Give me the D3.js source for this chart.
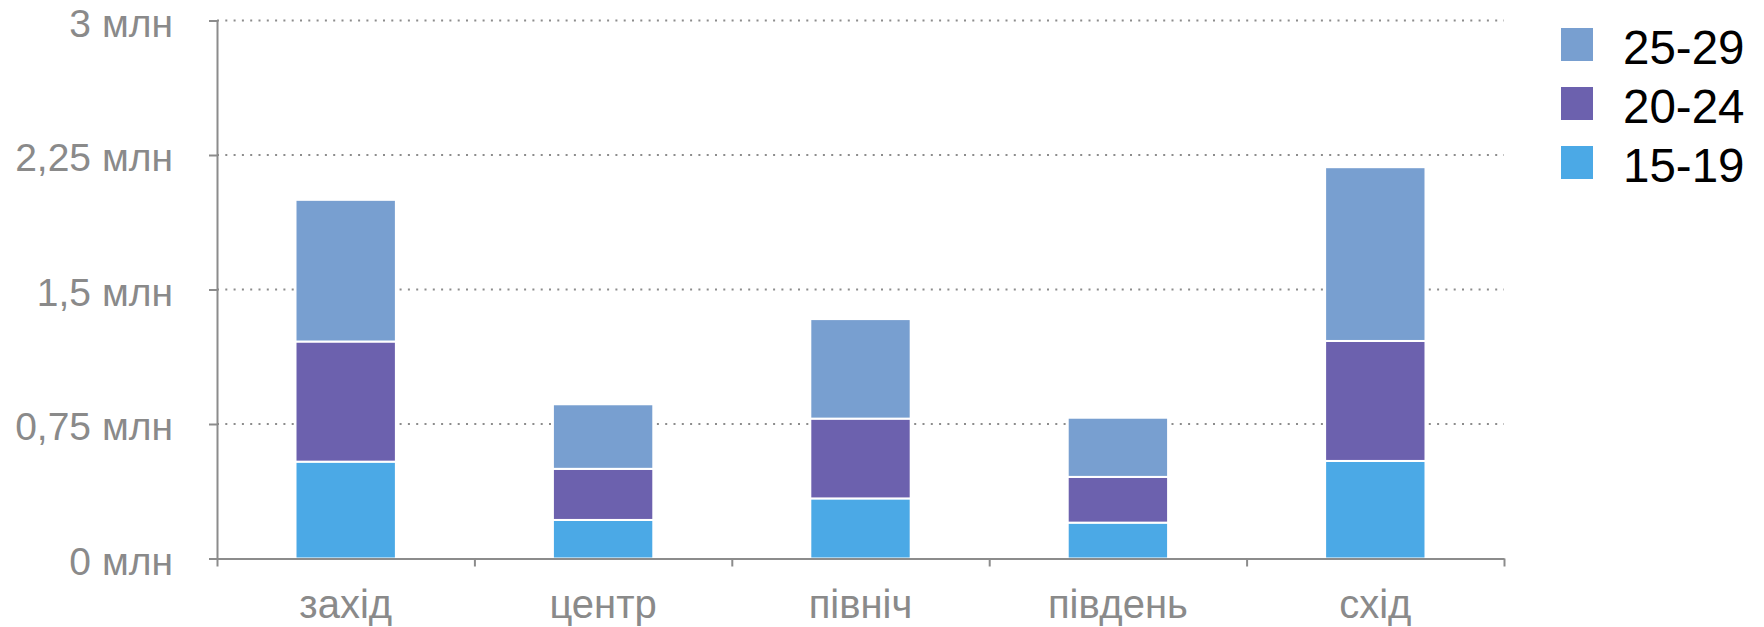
<!DOCTYPE html>
<html>
<head>
<meta charset="utf-8">
<script src="https://cdn.jsdelivr.net/npm/d3@7"></script>
<style>
  body { margin: 0; background: #fff; }
  svg { display: block; font-family: Helvetica, Arial, "Liberation Sans", sans-serif; }
</style>
</head>
<body>
<div id="chart"></div>
<script>
// regions and age groups (values in млн)
const regions = ['захід', 'центр', 'північ', 'південь', 'схід']
const ageGroups = ['15-19', '20-24', '25-29']
const age15to19 = [0.54, 0.215, 0.335, 0.20, 0.544]
const age20to24 = [0.67, 0.285, 0.445, 0.255, 0.669]
const age25to29 = [0.79, 0.36, 0.555, 0.33, 0.969]
const yTicks = [0, 0.75, 1.5, 2.25, 3]
const colors = { '15-19': '#4ba9e6', '20-24': '#6c61ae', '25-29': '#789fd0' }

const rows = regions.map((r, i) => ({
    region: r,
    '15-19': age15to19[i],
    '20-24': age20to24[i],
    '25-29': age25to29[i]
}))

const margin = {top: 20.5, right: 260, bottom: 68.5, left: 217}
const svgWidth = 1764
const svgHeight = 627
const width = svgWidth - margin.left - margin.right
const height = svgHeight - margin.top - margin.bottom

const x = d3.scaleBand()
    .domain(regions)
    .range([0, width])
    .paddingInner(0.61)
    .paddingOuter(0.305)

const xEdge = d3.scaleLinear()
    .domain([0, regions.length])
    .range([0, width])

const y = d3.scaleLinear()
    .domain([0, 3])
    .range([height, 0])

const svg = d3.select('#chart')
    .append('svg')
    .attr('width', svgWidth)
    .attr('height', svgHeight)

const main = svg.append('g')
    .attr('transform', `translate(${margin.left},${margin.top})`)

// dotted grid
main.append('g')
    .selectAll('line')
    .data(yTicks.filter(d => d > 0))
    .enter().append('line')
    .attr('x1', 0)
    .attr('x2', width)
    .attr('y1', d => y(d))
    .attr('y2', d => y(d))
    .attr('stroke', '#8c8c8c')
    .attr('stroke-width', 2)
    .attr('stroke-dasharray', '2,6.3')

// stacked bars
const stack = d3.stack().keys(ageGroups)(rows)

main.append('g')
    .selectAll('g')
    .data(stack)
    .enter().append('g')
    .attr('fill', d => colors[d.key])
    .selectAll('rect')
    .data(d => d)
    .enter().append('rect')
    .attr('x', d => x(d.data.region))
    .attr('width', x.bandwidth())
    .attr('y', d => y(d[1]))
    .attr('height', d => y(d[0]) - y(d[1]))
    .attr('stroke', '#fff')
    .attr('stroke-width', 2)

// y axis
const yAxis = d3.axisLeft(y)
    .tickValues(yTicks)
    .tickSize(8)
    .tickSizeOuter(0)
    .tickPadding(36)
    .tickFormat(d => String(d).replace('.', ',') + ' млн')

const gy = main.append('g').call(yAxis)
gy.selectAll('path, line').attr('stroke', '#8c8c8c').attr('stroke-width', 2)
gy.selectAll('text')
    .attr('dy', '0.4em')
    .attr('fill', '#8a8a8a')
    .style('font-size', '39px')

// x axis: boundary ticks
const gx = main.append('g')
    .attr('transform', `translate(0,${height})`)
    .call(d3.axisBottom(xEdge)
        .tickValues(d3.range(regions.length + 1))
        .tickSize(8)
        .tickSizeOuter(0)
        .tickFormat(''))
gx.selectAll('path, line').attr('stroke', '#8c8c8c').attr('stroke-width', 2)

// x labels
const gxl = main.append('g')
    .attr('transform', `translate(0,${height})`)
    .call(d3.axisBottom(x).tickSize(0))
gxl.select('.domain').remove()
gxl.selectAll('text')
    .attr('y', 59.5)
    .attr('dy', 0)
    .attr('fill', '#8a8a8a')
    .style('font-size', '40px')

// legend
const legend = svg.append('g')
    .attr('transform', 'translate(1561,28)')

const item = legend.selectAll('g')
    .data(ageGroups.slice().reverse())
    .enter().append('g')
    .attr('transform', (d, i) => `translate(0,${i * 59})`)

item.append('rect')
    .attr('width', 32)
    .attr('height', 33)
    .attr('fill', d => colors[d])

item.append('text')
    .attr('x', 62)
    .attr('y', 35.5)
    .attr('fill', '#000')
    .style('font-size', '47.5px')
    .text(d => d)
</script>
</body>
</html>
